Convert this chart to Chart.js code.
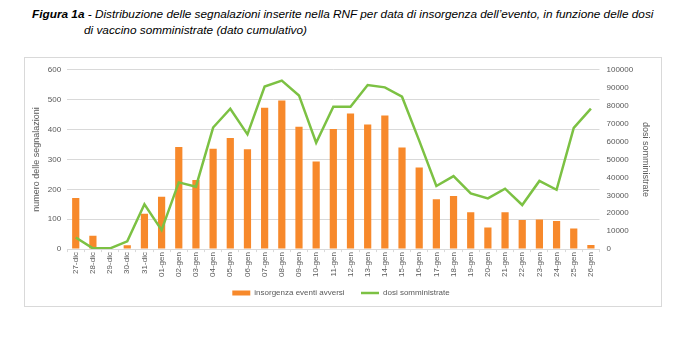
<!DOCTYPE html>
<html>
<head>
<meta charset="utf-8">
<script src="https://cdn.jsdelivr.net/npm/chart.js@4/dist/chart.umd.min.js"></script>
<style>
  body { margin: 0; background: #fff; width: 683px; height: 347px; position: relative; overflow: hidden; }
  .title { position: absolute; left: 32px; top: 6px; font-family: "Liberation Sans", sans-serif; font-size: 11.8px; font-style: italic; color: #000; line-height: 16px; }
  .title b { font-weight: bold; }
  .title .l2 { padding-left: 52px; }
  #box { position: absolute; left: 24px; top: 57px; width: 636px; height: 248px; border: 1px solid #d9d9d9; }
</style>
</head>
<body>
<div class="title">
  <div><b>Figura 1a</b> - Distribuzione delle segnalazioni inserite nella RNF per data di insorgenza dell’evento, in funzione delle dosi</div>
  <div class="l2">di vaccino somministrate (dato cumulativo)</div>
</div>
<div id="box"><canvas id="chart" width="636" height="248"></canvas></div>
<script>
const giorni = ["27-dic","28-dic","29-dic","30-dic","31-dic","01-gen","02-gen","03-gen","04-gen","05-gen","06-gen",
  "07-gen","08-gen","09-gen","10-gen","11-gen","12-gen","13-gen","14-gen","15-gen","16-gen","17-gen","18-gen",
  "19-gen","20-gen","21-gen","22-gen","23-gen","24-gen","25-gen","26-gen"];
const segnalazioni = [171, 45, 2, 13, 118, 175, 342, 231, 336, 372, 334, 473, 497, 409, 293, 402, 454, 417, 447, 340,
  273, 167, 178, 123, 72, 123, 97, 99, 94, 69, 14];
const dosi = [6500, 400, 400, 4300, 25000, 10600, 37200, 34800, 67800, 78300, 64000, 90700, 94000, 85700, 59300,
  79400, 79400, 91500, 90200, 85000, 60500, 35200, 40700, 31100, 28300, 33700, 24600, 38000, 33100, 67600, 78300];

const tickFont = { family: "Liberation Sans", size: 8 };
const grey = "#595959";

const ctx = document.getElementById("chart").getContext("2d");
new Chart(ctx, {
  data: {
    labels: giorni,
    datasets: [
      {
        type: "bar",
        label: "insorgenza eventi avversi",
        data: segnalazioni,
        backgroundColor: "#F7892B",
        borderWidth: 0,
        barPercentage: 0.42,
        categoryPercentage: 1,
        yAxisID: "y",
        order: 2
      },
      {
        type: "line",
        label: "dosi somministrate",
        data: dosi,
        borderColor: "#7CC143",
        backgroundColor: "#7CC143",
        borderWidth: 2.5,
        pointRadius: 0,
        tension: 0,
        yAxisID: "y1",
        order: 1
      }
    ]
  },
  options: {
    responsive: false,
    animation: false,
    layout: { padding: { left: 6, right: 10, top: 3, bottom: -1 } },
    plugins: {
      legend: {
        position: "bottom",
        labels: {
          usePointStyle: true,
          pointStyleWidth: 18,
          boxHeight: 5,
          padding: 12,
          color: grey,
          font: { family: "Liberation Sans", size: 8 },
          sort: (a, b) => a.datasetIndex - b.datasetIndex,
          // a couple of trailing spaces widen the gap between the two legend items
          generateLabels: (chart) => Chart.defaults.plugins.legend.labels.generateLabels(chart)
            .map((l) => ({
              ...l,
              text: l.datasetIndex === 0 ? l.text + "  " : l.text,
              pointStyle: l.datasetIndex === 0 ? "rect" : "line",
              lineWidth: l.datasetIndex === 0 ? 0 : 2.5
            }))
        }
      },
      tooltip: { enabled: false }
    },
    scales: {
      x: {
        grid: { display: true, drawOnChartArea: false, drawTicks: true, tickLength: 3, color: "#d9d9d9" },
        border: { color: "#d9d9d9" },
        ticks: { color: grey, font: tickFont, autoSkip: false, maxRotation: 90, minRotation: 90, padding: 0 }
      },
      y: {
        position: "left",
        min: 0,
        max: 600,
        ticks: { stepSize: 100, color: grey, font: tickFont, padding: 6, callback: (v) => String(v) },
        grid: { color: "#d9d9d9", drawTicks: false },
        border: { display: false },
        title: { display: true, text: "numero delle segnalazioni", color: grey, font: { family: "Liberation Sans", size: 9 }, padding: 0 }
      },
      y1: {
        position: "right",
        min: 0,
        max: 100000,
        ticks: { stepSize: 10000, color: grey, font: tickFont, padding: 7, callback: (v) => String(v) },
        grid: { drawOnChartArea: false, drawTicks: false },
        border: { display: false },
        title: { display: true, text: "dosi somministrate", color: grey, font: { family: "Liberation Sans", size: 9 }, padding: 0 }
      }
    }
  }
});
</script>
</body>
</html>
